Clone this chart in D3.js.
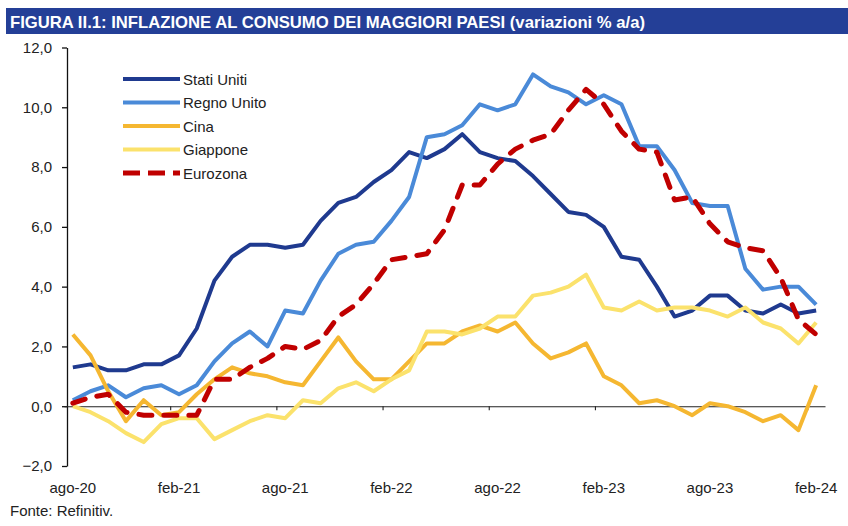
<!DOCTYPE html>
<html>
<head>
<meta charset="utf-8">
<script src="https://cdn.jsdelivr.net/npm/d3@7"></script>
<style>
  body { margin: 0; background: #fff; }
  text { font-family: "Liberation Sans", Arial, sans-serif; fill: #222; }
</style>
</head>
<body>
<script>
// Inflazione al consumo dei maggiori paesi, variazioni % a/a

// mesi da ago-20 a feb-24
var months = ["ago-20","set-20","ott-20","nov-20","dic-20",
  "gen-21","feb-21","mar-21","apr-21","mag-21","giu-21","lug-21","ago-21","set-21","ott-21","nov-21","dic-21",
  "gen-22","feb-22","mar-22","apr-22","mag-22","giu-22","lug-22","ago-22","set-22","ott-22","nov-22","dic-22",
  "gen-23","feb-23","mar-23","apr-23","mag-23","giu-23","lug-23","ago-23","set-23","ott-23","nov-23","dic-23",
  "gen-24","feb-24"];

var statiUniti = [1.3,1.4,1.2,1.2,1.4, 1.4,1.7,2.6,4.2,5.0,5.4,5.4,5.3,5.4,6.2,6.8,7.0,
  7.5,7.9,8.5,8.3,8.6,9.1,8.5,8.3,8.2,7.7,7.1,6.5, 6.4,6.0,5.0,4.9,4.0,3.0,3.2,3.7,3.7,3.2,3.1,3.4, 3.1,3.2];
var regnoUnito = [0.2,0.5,0.7,0.3,0.6, 0.7,0.4,0.7,1.5,2.1,2.5,2.0,3.2,3.1,4.2,5.1,5.4,
  5.5,6.2,7.0,9.0,9.1,9.4,10.1,9.9,10.1,11.1,10.7,10.5, 10.1,10.4,10.1,8.7,8.7,7.9,6.8,6.7,6.7,4.6,3.9,4.0, 4.0,3.4];
var cina = [2.4,1.7,0.5,-0.5,0.2, -0.3,-0.2,0.4,0.9,1.3,1.1,1.0,0.8,0.7,1.5,2.3,1.5,
  0.9,0.9,1.5,2.1,2.1,2.5,2.7,2.5,2.8,2.1,1.6,1.8, 2.1,1.0,0.7,0.1,0.2,0.0,-0.3,0.1,0.0,-0.2,-0.5,-0.3, -0.8,0.7];
var giappone = [0.0,-0.2,-0.5,-0.9,-1.2, -0.6,-0.4,-0.4,-1.1,-0.8,-0.5,-0.3,-0.4,0.2,0.1,0.6,0.8,
  0.5,0.9,1.2,2.5,2.5,2.4,2.6,3.0,3.0,3.7,3.8,4.0, 4.4,3.3,3.2,3.5,3.2,3.3,3.3,3.2,3.0,3.3,2.8,2.6, 2.1,2.8];
var eurozona = [0.1,0.3,0.4,-0.2,-0.3, -0.3,-0.3,-0.3,0.9,0.9,1.3,1.6,2.0,1.9,2.2,3.0,3.4,
  4.1,4.9,5.0,5.1,5.9,7.4,7.4,8.1,8.6,8.9,9.1,9.9, 10.6,10.1,9.2,8.6,8.5,6.9,7.0,6.1,5.5,5.3,5.2,4.3, 2.9,2.4];

var seriesNames = ["Stati Uniti","Regno Unito","Cina","Giappone","Eurozona"];
var seriesColors = ["#1f3a8f","#4a8ad8","#f5b731","#fbe26c","#c00000"];
var xTickLabels = ["ago-20","feb-21","ago-21","feb-22","ago-22","feb-23","ago-23","feb-24"];
var yTicks = [-2,0,2,4,6,8,10,12];

var W = 848;
var H = 526;
var Left = 64;
var Right = 825;
var Top = 47.5;
var Bottom = 466;

function main() {
  var svg = d3.select("body").append("svg")
    .attr("width", W)
    .attr("height", H);

  drawTitle(svg);

  var xScale = d3.scaleLinear().domain([-0.5, months.length - 0.5]).range([Left, Right]);
  var yScale = d3.scaleLinear().domain([-2, 12]).range([Bottom, Top]);

  drawAxes(svg, xScale, yScale);

  var allSeries = [statiUniti, regnoUnito, cina, giappone, eurozona];
  var line = d3.line()
    .x(function(d, i) { return xScale(i); })
    .y(function(d) { return yScale(d); });

  allSeries.forEach(function(s, k) {
    var p = svg.append("path")
      .datum(s)
      .attr("fill", "none")
      .attr("stroke", seriesColors[k])
      .attr("stroke-width", k == 4 ? 5 : 4)
      .attr("stroke-linejoin", "round")
      .attr("d", line);
    if (k == 4) {
      p.attr("stroke-dasharray", "13,12").attr("stroke-linecap", "round");
    }
  });

  drawLegend(svg);

  svg.append("text")
    .attr("x", 10)
    .attr("y", 516)
    .style("font-size", "15px")
    .text("Fonte: Refinitiv.");
}

function drawTitle(svg) {
  svg.append("rect")
    .attr("x", 6).attr("y", 8)
    .attr("width", W - 6).attr("height", 26)
    .attr("fill", "#243f97");
  svg.append("text")
    .attr("x", 10)
    .attr("y", 28)
    .attr("textLength", 635)
    .attr("lengthAdjust", "spacingAndGlyphs")
    .style("font-size", "17px")
    .style("font-weight", "bold")
    .style("fill", "#fff")
    .text("FIGURA II.1: INFLAZIONE AL CONSUMO DEI MAGGIORI PAESI (variazioni % a/a)");
}

function drawAxes(svg, xScale, yScale) {
  //asse y a sinistra
  var yAxis = d3.axisLeft(yScale)
    .tickValues(yTicks)
    .tickSize(5)
    .tickSizeOuter(0)
    .tickPadding(10)
    .tickFormat(function(d) { return d3.format(".1f")(d).replace(".", ","); });
  var gy = svg.append("g")
    .attr("transform", "translate(" + 67 + ",0)")
    .call(yAxis);
  gy.selectAll("text").style("font-size", "15px").style("fill", "#222");
  gy.selectAll("line, path").attr("stroke", "#111").attr("stroke-width", 1.3);

  //linea dello zero con tacche ogni 6 mesi
  var boundaries = d3.range(5.5, months.length - 1, 6);
  var xAxis = d3.axisBottom(xScale)
    .tickValues(boundaries)
    .tickSize(4)
    .tickSizeOuter(0)
    .tickFormat("");
  var gx = svg.append("g")
    .attr("transform", "translate(0," + yScale(0) + ")")
    .call(xAxis);
  gx.selectAll("line, path").attr("stroke", "#222").attr("stroke-width", 1.1);

  //etichette dei mesi sotto il grafico
  svg.selectAll(".xlabel")
    .data(xTickLabels)
    .enter()
    .append("text")
    .attr("class", "xlabel")
    .attr("x", function(d) { return xScale(months.indexOf(d)); })
    .attr("y", 493)
    .attr("text-anchor", "middle")
    .style("font-size", "15px")
    .text(function(d) { return d; });
}

function drawLegend(svg) {
  var rowY = [79, 102.5, 126, 149.5, 173];
  seriesNames.forEach(function(name, k) {
    var l = svg.append("line")
      .attr("x1", 123).attr("x2", 180)
      .attr("y1", rowY[k]).attr("y2", rowY[k])
      .attr("stroke", seriesColors[k])
      .attr("stroke-width", k == 4 ? 5 : 4);
    if (k == 4) {
      l.attr("stroke-dasharray", "17,8");
    }
    svg.append("text")
      .attr("x", 183)
      .attr("y", rowY[k] + 5.5)
      .style("font-size", "15px")
      .text(name);
  });
}

main();
</script>
</body>
</html>
